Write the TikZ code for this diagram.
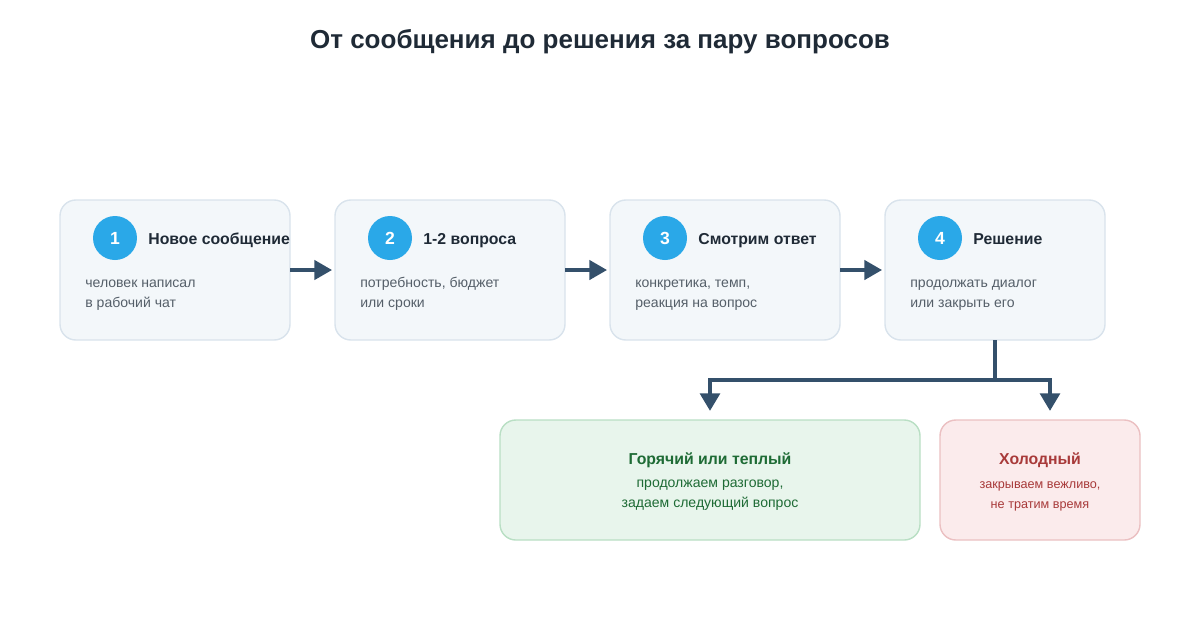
\documentclass[tikz,border=0pt]{standalone}
\usepackage{fontspec}
\setmainfont{Liberation Sans}
\usetikzlibrary{arrows.meta}
\definecolor{boxfill}{HTML}{F3F7FA}
\definecolor{boxline}{HTML}{D9E3EC}
\definecolor{numblue}{HTML}{2AA8E8}
\definecolor{darkline}{HTML}{34506B}
\definecolor{titlecol}{HTML}{1F2A36}
\definecolor{bodycol}{HTML}{555F69}
\definecolor{hotfill}{HTML}{E8F5EC}
\definecolor{hotline}{HTML}{B9DFC4}
\definecolor{hottext}{HTML}{1E6B35}
\definecolor{coldfill}{HTML}{FBEBEC}
\definecolor{coldline}{HTML}{EBC0C2}
\definecolor{coldtext}{HTML}{A83A3A}
\tikzset{
  stepbox/.style={draw=boxline, fill=boxfill, line width=0.8pt, rounded corners=9pt},
  num/.style={circle, fill=numblue, text=white, minimum size=0.88cm, inner sep=0pt, font=\fontsize{10}{12}\selectfont\bfseries},
  head/.style={anchor=base west, text=titlecol, inner sep=0pt, font=\fontsize{9}{11}\selectfont\bfseries},
  body/.style={anchor=base west, text=bodycol, inner sep=0pt, align=left, font=\fontsize{8}{11.3}\selectfont},
  flow/.style={draw=darkline, line width=1.8pt, -{Triangle[length=10pt, width=11pt]}},
}
\begin{document}
\begin{tikzpicture}[x=0.02cm, y=-0.02cm]
  \useasboundingbox (0,0) rectangle (1200,630);
  \node[text=titlecol, font=\fontsize{14.8}{17}\selectfont\bfseries] (title) at (600,42) {От сообщения до решения за пару вопросов};

  % steps
  \foreach \i/\xa/\xb/\hd/\la/\lb in {
      1/60/290/{Новое сообщение}/{человек написал}/{в рабочий чат},
      2/335/565/{1-2 вопроса}/{потребность, бюджет}/{или сроки},
      3/610/840/{Смотрим ответ}/{конкретика, темп,}/{реакция на вопрос},
      4/885/1105/{Решение}/{продолжать диалог}/{или закрыть его}} {
    \draw[stepbox] (\xa,200) rectangle (\xb,340);
    \coordinate (s\i w) at (\xa-3,270);
    \coordinate (s\i e) at (\xb,270);
    \node[num] (n\i) at (\xa+55,238) {\i};
    \node[head] (h\i) at (\xa+88,244) {\hd};
    \node[body] (b\i) at (\xa+25,307) {\la\\\lb};
  }

  \draw[flow] (s1e) -- (s2w);
  \draw[flow] (s2e) -- (s3w);
  \draw[flow] (s3e) -- (s4w);

  % outcomes
  \draw[draw=hotline, fill=hotfill, line width=0.8pt, rounded corners=9pt] (500,420) rectangle (920,540);
  \node[text=hottext, font=\fontsize{9}{11}\selectfont\bfseries] (hot) at (710,460) {Горячий или теплый};
  \node[text=hottext, align=center, font=\fontsize{8}{11.3}\selectfont] (hotb) at (710,495) {продолжаем разговор,\\задаем следующий вопрос};

  \draw[draw=coldline, fill=coldfill, line width=0.8pt, rounded corners=9pt] (940,420) rectangle (1140,540);
  \node[text=coldtext, font=\fontsize{9}{11}\selectfont\bfseries] (cold) at (1040,460) {Холодный};
  \node[text=coldtext, align=center, font=\fontsize{7.2}{11.3}\selectfont] (coldb) at (1040,496) {закрываем вежливо,\\не тратим время};

  \coordinate (d4) at (995,340);
  \coordinate (fork) at (995,380);
  \coordinate (hotin) at (710,411);
  \coordinate (coldin) at (1050,411);
  \draw[darkline, line width=2.6pt] (d4) -- (fork);
  \draw[flow, line width=2.6pt] (fork) -| (hotin);
  \draw[flow, line width=2.6pt] (fork) -| (coldin);
\end{tikzpicture}
\end{document}
